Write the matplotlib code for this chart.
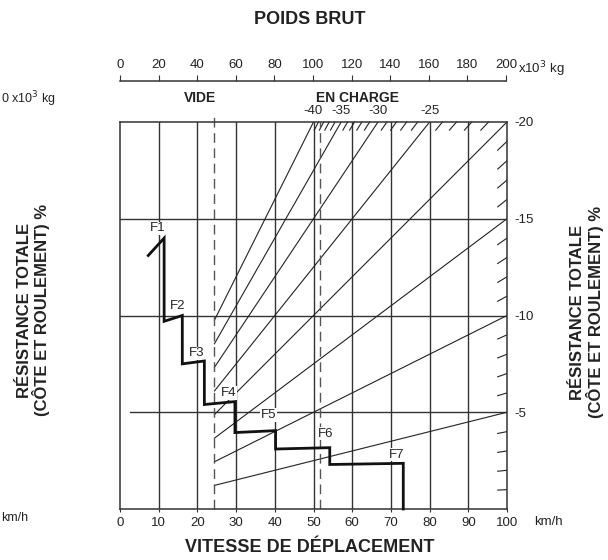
import numpy as np
import matplotlib
matplotlib.use('Agg')
import matplotlib.pyplot as plt

plt.rcParams['font.family'] = ['Liberation Sans', 'DejaVu Sans']

# -------------------------------
# Data
# -------------------------------
speed_ticks = list(range(0, 101, 10))
weight_ticks = list(range(0, 201, 20))
right_ticks = [20, 15, 10, 5]
right_labels = ['-20', '-15', '-10', '-5']

# rimpull step curve (speed km/h, resistance %)
curve_speed = [7.3, 11.4, 11.4, 16.1, 16.1, 21.8, 21.8, 29.7, 29.7, 40.2, 40.2, 54.2, 54.2, 73.2, 73.2]
curve_pct = [13.1, 14.0, 9.7, 10.0, 7.5, 7.65, 5.4, 5.55, 3.95, 4.05, 3.1, 3.17, 2.3, 2.36, 0.0]

gear_names = ['F1', 'F2', 'F3', 'F4', 'F5', 'F6', 'F7']
gear_x = [9.8, 15.0, 19.9, 28.0, 38.3, 53.1, 71.5]
gear_y = [14.5, 10.5, 8.05, 6.0, 4.85, 3.9, 2.8]

# gross weight: empty / loaded (x10^3 kg)
weight_empty = 48.8
weight_loaded = 103.2

# grade lines (%), drawn full
grades_top = [40, 35, 30, 25, 20]
grades_right = [15, 10, 5]

W, H = 608, 560


def px(x, y):
    return x / W, 1 - y / H


fig = plt.figure(figsize=(W / 100, H / 100), dpi=100)
ax = fig.add_axes([120 / W, 51 / H, 387 / W, 387 / H])
ax.set_xlim(0, 100)
ax.set_ylim(0, 20)

line_col = '#333333'
for s in ax.spines.values():
    s.set_color(line_col)
    s.set_linewidth(1.1)

# vertical grid
for v in speed_ticks[1:-1]:
    ax.plot([v, v], [0, 20], color=line_col, lw=1.0, zorder=1)
# horizontal grid
ax.plot([0, 100], [15, 15], color=line_col, lw=1.0, zorder=1)
ax.plot([0, 100], [10, 10], color=line_col, lw=1.0, zorder=1)
ax.plot([2.6, 100], [5, 5], color=line_col, lw=1.0, zorder=1)

# grade lines: y = g * x / 100 in chart coords (x = weight / 2)
x0 = weight_empty / 2
for g in grades_top + grades_right:
    x1 = min(100, 2000 / g)
    ax.plot([x0, x1], [g * x0 / 100, g * x1 / 100], color='#222222', lw=0.8, zorder=2)

# hatch marks on top edge
for g in range(21, 40):
    if g in grades_top:
        continue
    xa = (20 - 0.42) * 100 / g
    ax.plot([xa, 2000 / g], [20 - 0.42, 20], color='#222222', lw=0.8, zorder=2, clip_on=False)
# hatch marks on right edge
for g in range(1, 20):
    if g in grades_right:
        continue
    xa = 100 - 2.4
    ax.plot([xa, 100], [g * xa / 100, g], color='#222222', lw=0.8, zorder=2)

# dashed weight lines
ax.plot([weight_empty / 2] * 2, [0, 20.5], color='#555555', lw=1.0,
        dashes=(7, 4), clip_on=False, zorder=2)
ax.plot([weight_loaded / 2] * 2, [0, 20], color='#555555', lw=1.0,
        dashes=(7, 4), zorder=2)

# rimpull curve
ax.plot(curve_speed, curve_pct, color='#111111', lw=2.0, zorder=4,
        solid_joinstyle='miter', clip_on=False)
for name, gx, gy in zip(gear_names, gear_x, gear_y):
    ax.text(gx, gy, name, fontsize=9.5, ha='center', va='center', color='#222222',
            bbox=dict(facecolor='white', edgecolor='none', pad=0.5), zorder=3)

# axes ticks
ax.set_xticks(speed_ticks)
ax.tick_params(axis='x', length=2, color=line_col, labelsize=9.5, pad=4, labelcolor='#222222')
ax.yaxis.tick_right()
ax.set_yticks(right_ticks)
ax.set_yticklabels(right_labels)
ax.tick_params(axis='y', length=0, labelsize=9.5, pad=5, labelcolor='#222222')

# grade labels on top edge
for g in [40, 35, 30, 25]:
    ax.text(2000 / g, 20.25, '-%d' % g, fontsize=9.5, ha='center', va='bottom', color='#222222')

# top weight axis
ax2 = fig.add_axes([120 / W, (H - 81) / H, 386 / W, 0.0001])
ax2.set_xlim(0, 200)
ax2.set_ylim(0, 1)
for k in ['left', 'right', 'bottom']:
    ax2.spines[k].set_visible(False)
ax2.spines['top'].set_color(line_col)
ax2.spines['top'].set_linewidth(1.1)
ax2.xaxis.tick_top()
ax2.set_xticks(weight_ticks)
ax2.tick_params(axis='x', direction='out', length=4, color=line_col, labelsize=9.5, pad=3,
                labelcolor='#222222')
ax2.set_yticks([])

txt = '#222222'
fig.text(*px(310, 20), 'POIDS BRUT', fontsize=13, fontweight='bold', ha='center', va='center', color=txt)
fig.text(*px(310, 547), 'VITESSE DE DÉPLACEMENT', fontsize=13, fontweight='bold', ha='center', va='center', color=txt)
fig.text(*px(518, 69), 'x10$^3$ kg', fontsize=9.5, ha='left', va='center', color=txt)
fig.text(*px(534, 522), 'km/h', fontsize=9.5, ha='left', va='center', color=txt)
fig.text(*px(200, 98), 'VIDE', fontsize=10, fontweight='bold', ha='center', va='center', color=txt)
fig.text(*px(357, 98), 'EN CHARGE', fontsize=10, fontweight='bold', ha='center', va='center', color=txt)

side = 'RÉSISTANCE TOTALE\n(CÔTE ET ROULEMENT) %'
fig.text(*px(34, 310), side, fontsize=12, fontweight='bold', rotation=90, ha='center', va='center',
         multialignment='center', color=txt, linespacing=1.0)
fig.text(*px(587, 312), side, fontsize=12, fontweight='bold', rotation=90, ha='center', va='center',
         multialignment='center', color=txt, linespacing=1.0)

# remnants of the neighbouring chart at the left edge
fig.text(*px(1, 99), '0 x10$^3$ kg', fontsize=9, ha='left', va='center', color=txt)
fig.text(*px(1, 518), 'km/h', fontsize=9, ha='left', va='center', color=txt)

fig.savefig('out.png', dpi=100)
